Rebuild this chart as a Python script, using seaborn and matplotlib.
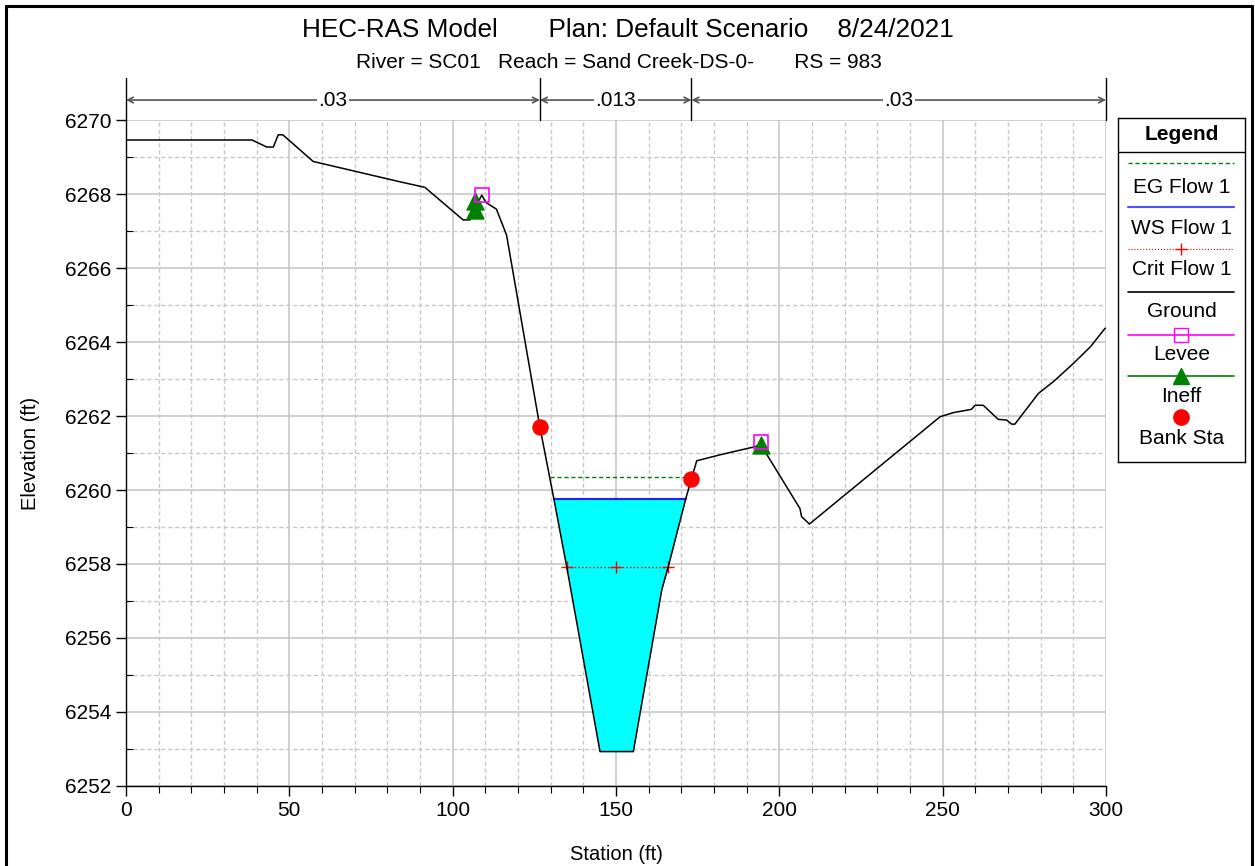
import numpy as np
import pandas as pd
import matplotlib.pyplot as plt
import seaborn as sns
from matplotlib.lines import Line2D

# ground profile (station ft, elevation ft)
station = [0, 38.6, 43.1, 45.1, 46.6, 48, 57.3, 83.9, 91.5, 103.2, 105.3, 106.3, 108.9, 110.2,
           113.4, 116.5, 126.7, 131, 134.9, 145.1, 155.3, 164, 166, 171.3, 173.1, 174.7, 181.8,
           192.5, 194.5, 195.6, 206.3, 206.8, 209.2, 249.2, 253.2, 258.8, 259.9, 262.4, 267,
           269.6, 271.1, 272.1, 279.3, 283.9, 290, 295.2, 299.7, 300]
elevation = [6269.46, 6269.46, 6269.27, 6269.27, 6269.6, 6269.6, 6268.88, 6268.33, 6268.18,
             6267.3, 6267.3, 6267.52, 6267.97, 6267.77, 6267.59, 6266.89, 6261.7, 6259.75,
             6257.93, 6252.93, 6252.93, 6257.3, 6257.93, 6259.75, 6260.3, 6260.79, 6260.95,
             6261.17, 6261.24, 6261.04, 6259.5, 6259.28, 6259.08, 6261.98, 6262.09, 6262.18,
             6262.29, 6262.29, 6261.91, 6261.89, 6261.78, 6261.78, 6262.61, 6262.93, 6263.42,
             6263.87, 6264.37, 6264.37]

bank_sta = [126.7, 173.1]
bank_elev = [6261.7, 6260.3]
levee_sta = [108.9, 194.5]
levee_elev = [6267.97, 6261.3]
ineff_sta = [106.8, 106.8, 194.5]
ineff_elev = [6267.82, 6267.57, 6261.22]

ws_elev = 6259.75
eg_elev = 6260.35
eg_sta = [129.8, 173.0]
crit_sta = [134.9, 150.0, 166.0]
crit_elev = [6257.93, 6257.93, 6257.93]

n_values = ['.03', '.013', '.03']
n_breaks = [0, 126.7, 173.1, 300]

legend_labels = ['EG Flow 1', 'WS Flow 1', 'Crit Flow 1', 'Ground', 'Levee', 'Ineff', 'Bank Sta']

ground_df = pd.DataFrame({'Station': station, 'Elevation': elevation})

sns.set_style('white')
plt.rcParams['font.family'] = ['Liberation Sans', 'DejaVu Sans']
plt.rcParams.update({'text.color': 'black', 'axes.labelcolor': 'black',
                     'xtick.color': 'black', 'ytick.color': 'black'})

fig = plt.figure(figsize=(12.55, 8.66), dpi=100)
ax = fig.add_axes([0.1004, 0.0924, 0.7809, 0.769])

# water fill inside channel
sta = np.array(station)
elv = np.array(elevation)
inside = (sta >= bank_sta[0]) & (sta <= bank_sta[1])
wet = inside & (elv <= ws_elev + 1e-9)
ax.fill_between(sta, elv, ws_elev, where=wet, interpolate=True,
                color='#00ffff', zorder=2, linewidth=0)
ax.plot([sta[wet].min(), sta[wet].max()], [ws_elev, ws_elev], color='#2020ff', lw=1.5, zorder=3)
ax.plot(eg_sta, [eg_elev, eg_elev], color='green', ls=(0, (3, 2)), lw=1, zorder=3)
ax.plot(crit_sta, crit_elev, color='red', ls=':', lw=1, marker='+', ms=9, mew=1, zorder=3)

sns.lineplot(data=ground_df, x='Station', y='Elevation', ax=ax, color='black', lw=1.1,
             estimator=None, sort=False, zorder=4)
sns.scatterplot(x=ineff_sta, y=ineff_elev, ax=ax, marker='^', color='green', s=150,
                edgecolor='green', zorder=5)
sns.scatterplot(x=levee_sta, y=levee_elev, ax=ax, marker='s', facecolor='none',
                edgecolor='magenta', linewidth=1.2, s=100, zorder=6)
sns.scatterplot(x=bank_sta, y=bank_elev, ax=ax, marker='o', color='red', s=120,
                edgecolor='red', zorder=6)

ax.set_xlim(0, 300)
ax.set_ylim(6252, 6270)
ax.set_xticks(np.arange(0, 301, 50))
ax.set_xticks(np.arange(0, 301, 10), minor=True)
ax.set_yticks(np.arange(6252, 6271, 2))
ax.set_yticks(np.arange(6252, 6271, 1), minor=True)
ax.grid(which='major', color='#c8c8c8', lw=1.2, ls='-')
ax.grid(which='minor', color='#c8c8c8', lw=1, ls=(0, (3, 2)))
ax.set_axisbelow(True)
for side in ['top', 'right']:
    ax.spines[side].set_visible(False)
for side in ['left', 'bottom']:
    ax.spines[side].set_color('black')
    ax.spines[side].set_linewidth(1)
ax.tick_params(axis='both', which='major', direction='out', length=7, width=1,
               labelsize=15, left=True, bottom=True, color='black', labelcolor='black')
ax.tick_params(axis='x', which='minor', direction='out', length=5, width=0.8, bottom=True)
ax.tick_params(axis='y', which='minor', direction='in', length=5, width=0.8, left=True)
ax.set_xlabel('Station (ft)', fontsize=14.5, labelpad=18, color='black')
ax.set_ylabel('Elevation (ft)', fontsize=14.5, labelpad=18, color='black')

# Manning's n annotations above plot
trans = ax.get_xaxis_transform()
for b in n_breaks:
    ax.plot([b, b], [1.0, 1.063], transform=trans, color='black', lw=1, clip_on=False)
for i, n in enumerate(n_values):
    x0, x1 = n_breaks[i], n_breaks[i + 1]
    ax.annotate('', xy=(x0, 1.030), xytext=(x1, 1.030), xycoords=trans, textcoords=trans,
                arrowprops=dict(arrowstyle='<->', color='#555555', lw=1.2, shrinkA=0, shrinkB=0))
    ax.text((x0 + x1) / 2, 1.030, n, transform=trans, ha='center', va='center', fontsize=15,
            color='black', bbox=dict(facecolor='white', edgecolor='none', pad=1))

fig.text(0.500, 0.965, 'HEC-RAS Model       Plan: Default Scenario    8/24/2021',
         ha='center', va='center', fontsize=18.8, color='black')
fig.text(0.493, 0.928, 'River = SC01   Reach = Sand Creek-DS-0-       RS = 983',
         ha='center', va='center', fontsize=15, color='black')

# legend box
lax = fig.add_axes([0.8908, 0.4665, 0.1012, 0.3972])
lax.set_xlim(0, 127)
lax.set_ylim(344, 0)
lax.set_xticks([])
lax.set_yticks([])
for sp in lax.spines.values():
    sp.set_color('black')
    sp.set_linewidth(1)
lax.text(63.5, 16, 'Legend', ha='center', va='center', fontsize=15, fontweight='bold',
         color='black')
lax.plot([0, 127], [34, 34], color='black', lw=1)
line_y = [45, 89, 131, 174, 217, 258, 299]
text_y = [69, 110, 151, 193, 236, 278, 320]
lx = [10, 116]
lax.plot(lx, [line_y[0]] * 2, color='green', ls=(0, (3, 2)), lw=1)
lax.plot(lx, [line_y[1]] * 2, color='#5050ff', lw=1.5)
lax.plot(lx, [line_y[2]] * 2, color='red', ls=':', lw=0.8)
lax.plot([63.5], [line_y[2]], color='red', marker='+', ms=8)
lax.plot(lx, [line_y[3]] * 2, color='black', lw=1.2)
lax.plot(lx, [line_y[4]] * 2, color='magenta', lw=1.2)
lax.plot([63.5], [line_y[4]], marker='s', ms=10, mfc='none', mec='magenta', mew=1)
lax.plot(lx, [line_y[5]] * 2, color='green', lw=1.2)
lax.plot([63.5], [line_y[5]], marker='^', ms=11, color='green')
lax.plot([63.5], [line_y[6]], marker='o', ms=11, color='red')
for ty, lab in zip(text_y, legend_labels):
    lax.text(63.5, ty, lab, ha='center', va='center', fontsize=15, color='black')

# outer frame
for xs, ys in [([0.0048, 0.0048], [0.0, 0.9931]), ([0.0048, 0.9976], [0.9931, 0.9931]),
               ([0.9976, 0.9976], [0.0, 0.9931])]:
    fig.add_artist(Line2D(xs, ys, color='black', lw=2.2, transform=fig.transFigure))

fig.savefig('out.png', dpi=100)
